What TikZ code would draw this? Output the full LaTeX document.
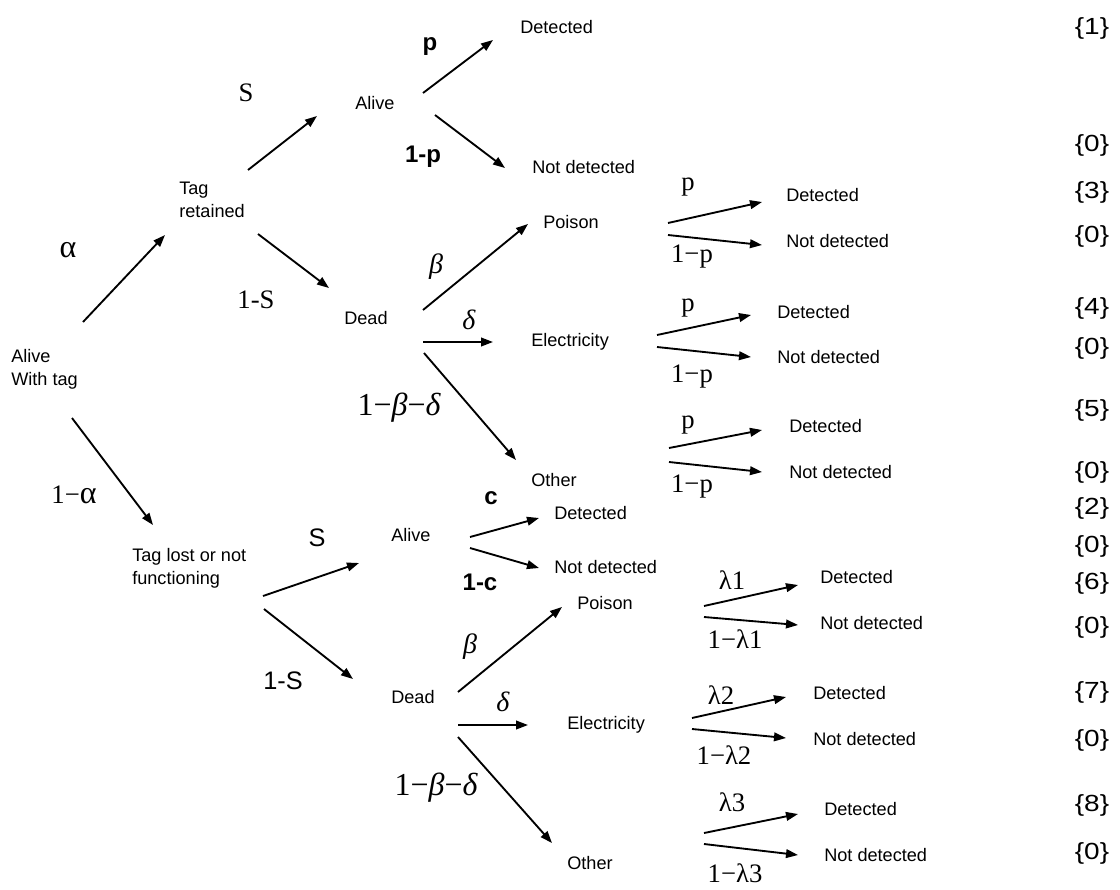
\documentclass[tikz,border=0pt]{standalone}
\usepackage{fontspec}
\setmainfont{Liberation Sans}
\newfontfamily\serf{Liberation Serif}
\usetikzlibrary{arrows.meta}
\newcommand\brc[1]{\scalebox{1.2}[1]{\{#1\}}}
\begin{document}
\begin{tikzpicture}[x=0.75pt,y=-0.75pt,
  txt/.style={font=\fontsize{13.6}{17}\selectfont, inner sep=0pt, anchor=west, text height=9.7pt, text depth=0pt},
  mtxt/.style={font=\fontsize{13.6}{17}\selectfont, inner sep=0pt, anchor=west, align=left},
  lab/.style={font=\serf\fontsize{20}{22}\selectfont, inner sep=0pt},
  alab/.style={font=\serf\fontsize{24}{26}\selectfont, inner sep=0pt},
  blab/.style={font=\bfseries\fontsize{18}{20}\selectfont, inner sep=0pt},
  slab/.style={font=\fontsize{19}{21}\selectfont, inner sep=0pt},
  glab/.style={font=\serf\itshape\fontsize{21}{23}\selectfont, inner sep=0pt},
  big/.style={font=\serf\fontsize{24}{26}\selectfont, inner sep=0pt},
  brace/.style={font=\fontsize{17.5}{19}\selectfont, inner sep=0pt},
  arr/.style={line width=1.4pt, -{Triangle[length=9pt,width=6.5pt]}}
]
\fill[white] (0,0) rectangle (1120,889);
\useasboundingbox (0,0) rectangle (1120,889);

% ---------- nodes ----------
\node[mtxt] (root) at (11,369) {Alive\\With tag};
\node[mtxt] (tagret) at (179,200) {Tag\\retained};
\node[txt] (alive1) at (355,103) {Alive};
\node[txt] (det1) at (520,27) {Detected};
\node[txt] (nd1) at (532,167) {Not detected};
\node[txt] (dead1) at (344,318) {Dead};
\node[txt] (poison1) at (543,222) {Poison};
\node[txt] (elec1) at (531,340) {Electricity};
\node[txt] (other1) at (531,480) {Other};
\node[txt] (det2) at (786,195) {Detected};
\node[txt] (nd2) at (786,241) {Not detected};
\node[txt] (det3) at (777,312) {Detected};
\node[txt] (nd3) at (777,357) {Not detected};
\node[txt] (det4) at (789,426) {Detected};
\node[txt] (nd4) at (789,472) {Not detected};

\node[mtxt] (taglost) at (132,568) {Tag lost or not\\functioning};
\node[txt] (alive2) at (391,535) {Alive};
\node[txt] (det5) at (554,513) {Detected};
\node[txt] (nd5) at (554,567) {Not detected};
\node[txt] (dead2) at (391,697) {Dead};
\node[txt] (poison2) at (577,603) {Poison};
\node[txt] (elec2) at (567,723) {Electricity};
\node[txt] (other2) at (567,863) {Other};
\node[txt] (det6) at (820,577) {Detected};
\node[txt] (nd6) at (820,623) {Not detected};
\node[txt] (det7) at (813,693) {Detected};
\node[txt] (nd7) at (813,739) {Not detected};
\node[txt] (det8) at (824,809) {Detected};
\node[txt] (nd8) at (824,855) {Not detected};

% ---------- outcome codes ----------
\node[brace] (c1) at (1092,28) {\brc{1}};
\node[brace] (c2) at (1092,145) {\brc{0}};
\node[brace] (c3) at (1092,192) {\brc{3}};
\node[brace] (c4) at (1092,236) {\brc{0}};
\node[brace] (c5) at (1092,308) {\brc{4}};
\node[brace] (c6) at (1092,348) {\brc{0}};
\node[brace] (c7) at (1092,410) {\brc{5}};
\node[brace] (c8) at (1092,472) {\brc{0}};
\node[brace] (c9) at (1092,508) {\brc{2}};
\node[brace] (c10) at (1092,546) {\brc{0}};
\node[brace] (c11) at (1092,583) {\brc{6}};
\node[brace] (c12) at (1092,627) {\brc{0}};
\node[brace] (c13) at (1092,692) {\brc{7}};
\node[brace] (c14) at (1092,740) {\brc{0}};
\node[brace] (c15) at (1092,805) {\brc{8}};
\node[brace] (c16) at (1092,853) {\brc{0}};

% ---------- branch labels ----------
\node[alab] (lalpha) at (68,250) {α};
\node[lab] (l1alpha) at (74,495) {1−{\fontsize{24}{26}\selectfont α}};
\node[lab] (lS1) at (246,93) {S};
\node[lab] (l1S1) at (256,300) {1-S};
\node[blab] (lp1) at (430,47) {p};
\node[blab] (l1p1) at (423,157) {1-p};
\node[glab] (lbeta1) at (436,267) {β};
\node[glab] (ldelta1) at (469,320) {δ};
\node[big] (lbd1) at (399,408) {1−{\itshape β}−{\itshape δ}};
\node[lab] (lp2) at (688,187) {p};
\node[lab] (l1p2) at (692,257) {1−p};
\node[lab] (lp3) at (688,308) {p};
\node[lab] (l1p3) at (692,377) {1−p};
\node[lab] (lp4) at (688,425) {p};
\node[lab] (l1p4) at (692,487) {1−p};

\node[slab] (lS2) at (317,538) {S};
\node[slab] (l1S2) at (283,681) {1-S};
\node[blab] (lc) at (491,498) {c};
\node[blab] (l1c) at (480,582) {1-c};
\node[glab] (lbeta2) at (470,647) {β};
\node[glab] (ldelta2) at (503,702) {δ};
\node[big] (lbd2) at (436,788) {1−{\itshape β}−{\itshape δ}};
\node[lab] (ll1) at (732,580) {λ1};
\node[lab] (l1l1) at (735,639) {1−λ1};
\node[lab] (ll2) at (721,695) {λ2};
\node[lab] (l1l2) at (724,755) {1−λ2};
\node[lab] (ll3) at (732,802) {λ3};
\node[lab] (l1l3) at (735,873) {1−λ3};

% ---------- arrow end points ----------
\coordinate (a1s) at (83,322);   \coordinate (a1e) at (165,235);
\coordinate (a2s) at (72,418);   \coordinate (a2e) at (153,525);
\coordinate (a3s) at (248,170);  \coordinate (a3e) at (317,116);
\coordinate (a4s) at (258,234);  \coordinate (a4e) at (329,288);
\coordinate (a5s) at (423,93);   \coordinate (a5e) at (493,40);
\coordinate (a6s) at (435,115);  \coordinate (a6e) at (505,168);
\coordinate (a7s) at (423,310);  \coordinate (a7e) at (528,224);
\coordinate (a8s) at (423,342);  \coordinate (a8e) at (493,342);
\coordinate (a9s) at (424,353);  \coordinate (a9e) at (516,460);
\coordinate (a10s) at (668,223); \coordinate (a10e) at (762,202);
\coordinate (a11s) at (668,235); \coordinate (a11e) at (762,245);
\coordinate (a12s) at (657,335); \coordinate (a12e) at (751,315);
\coordinate (a13s) at (657,347); \coordinate (a13e) at (751,357);
\coordinate (a14s) at (669,448); \coordinate (a14e) at (762,430);
\coordinate (a15s) at (669,462); \coordinate (a15e) at (762,472);
\coordinate (a16s) at (263,596); \coordinate (a16e) at (359,563);
\coordinate (a17s) at (264,609); \coordinate (a17e) at (353,679);
\coordinate (a18s) at (470,537); \coordinate (a18e) at (539,518);
\coordinate (a19s) at (470,548); \coordinate (a19e) at (539,568);
\coordinate (a20s) at (458,692); \coordinate (a20e) at (562,607);
\coordinate (a21s) at (458,725); \coordinate (a21e) at (528,725);
\coordinate (a22s) at (458,737); \coordinate (a22e) at (552,843);
\coordinate (a23s) at (704,606); \coordinate (a23e) at (798,585);
\coordinate (a24s) at (704,617); \coordinate (a24e) at (798,625);
\coordinate (a25s) at (692,718); \coordinate (a25e) at (786,697);
\coordinate (a26s) at (692,729); \coordinate (a26e) at (786,738);
\coordinate (a27s) at (704,833); \coordinate (a27e) at (798,814);
\coordinate (a28s) at (704,844); \coordinate (a28e) at (798,855);

\foreach \i in {1,...,28} {\draw[arr] (a\i s) -- (a\i e);}
\end{tikzpicture}
\end{document}
